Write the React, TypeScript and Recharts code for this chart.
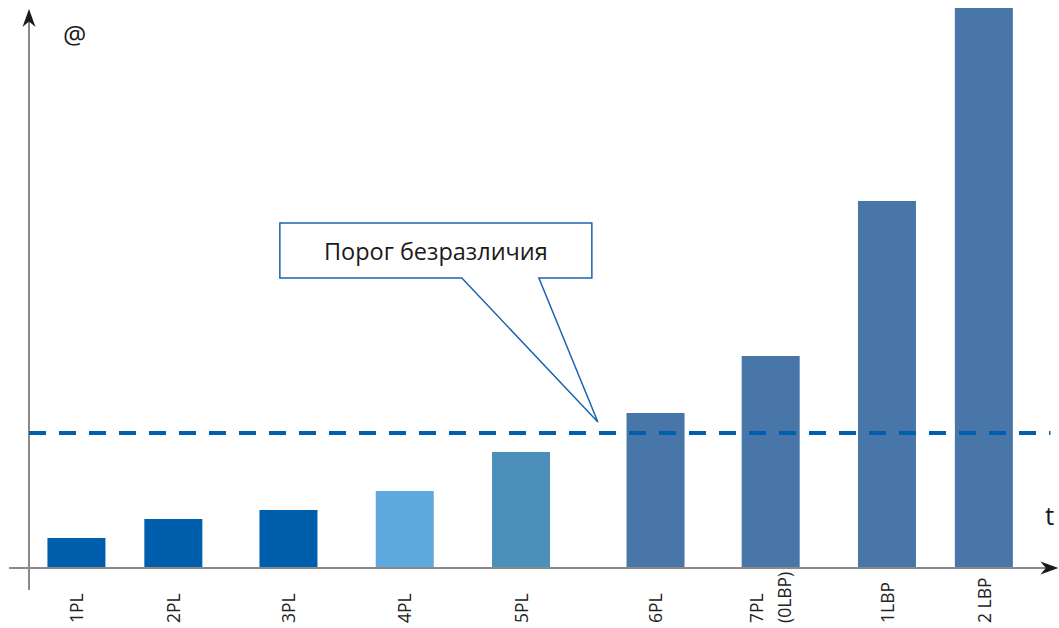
import React from 'react';
import { BarChart, Bar, XAxis, YAxis, Cell, ReferenceLine, ReferenceDot } from 'recharts';

const categories = ['1PL', '2PL', '3PL', '4PL', '5PL', '6PL', '7PL\n(0LBP)', '1LBP', '2 LBP'];
const timePoints = [0.42, 1.27, 2.28, 3.3, 4.32, 5.5, 6.51, 7.53, 8.38];
const values = [3.0, 4.9, 5.8, 7.7, 11.6, 15.5, 21.2, 36.7, 56.0];
const threshold = 13.5;
const thresholdLabel = 'Порог безразличия';

const barColors = ['#005fad', '#005fad', '#005fad', '#5ea9dd', '#4a90ba', '#4876a8', '#4876a8', '#4876a8', '#4876a8'];

const data = categories.map((name, i) => ({ name, pos: timePoints[i], value: values[i] }));

const FONT = '"Open Sans", "Noto Sans", sans-serif';
const AXIS_COLOR = '#8a8a8a';

const ArrowLine = (props: any) => {
  const { x1, y1, x2, y2 } = props;
  const dx = x2 - x1;
  const dy = y2 - y1;
  const len = Math.sqrt(dx * dx + dy * dy) || 1;
  const ux = dx / len;
  const uy = dy / len;
  const px = -uy;
  const py = ux;
  const L = 18;
  const W = 6.5;
  const bx = x2 - ux * L;
  const by = y2 - uy * L;
  const nx = x2 - ux * L * 0.7;
  const ny = y2 - uy * L * 0.7;
  const head = `M${x2},${y2} L${bx + px * W},${by + py * W} L${nx},${ny} L${bx - px * W},${by - py * W} Z`;
  return (
    <g>
      <line x1={x1} y1={y1} x2={nx} y2={ny} stroke={AXIS_COLOR} strokeWidth={2} />
      <path d={head} fill="#1a1a1a" />
    </g>
  );
};

const Callout = (props: any) => {
  const { cx, cy } = props;
  if (cx == null || cy == null) return null;
  const left = cx - 318;
  const right = cx - 6;
  const top = cy - 199;
  const bottom = cy - 144;
  const d = `M${left},${bottom} L${cx - 136},${bottom} L${cx},${cy} L${cx - 59},${bottom} L${right},${bottom} L${right},${top} L${left},${top} Z`;
  return (
    <g>
      <path d={d} fill="#ffffff" stroke="#1a64b0" strokeWidth={1.5} />
      <text
        x={(left + right) / 2}
        y={(top + bottom) / 2}
        textAnchor="middle"
        dominantBaseline="central"
        fontFamily={FONT}
        fontSize={23.5}
        fill="#1a1a1a"
      >
        {thresholdLabel}
      </text>
    </g>
  );
};

const RotatedTick = (props: any) => {
  const { x, payload } = props;
  const idx = timePoints.indexOf(payload.value);
  const label = idx >= 0 ? categories[idx] : '';
  const lines = label.split('\n');
  const baseY = 623;
  return (
    <g>
      {lines.map((line, i) => {
        const offset = (i - (lines.length - 1) / 2) * 28;
        const lx = x + offset;
        return (
          <text
            key={i}
            x={lx}
            y={baseY}
            transform={`rotate(-90, ${lx}, ${baseY})`}
            textAnchor="start"
            dy="0.36em"
            fontFamily={FONT}
            fontSize={17.5}
            fill="#222222"
          >
            {line}
          </text>
        );
      })}
    </g>
  );
};

export default function App() {
  return (
    <div style={{ position: 'absolute', left: 0, top: 0, width: 1059, height: 628, background: '#ffffff' }}>
      <BarChart
        width={1059}
        height={628}
        data={data}
        margin={{ top: 8, right: 4, left: 29, bottom: 0 }}
      >
        <XAxis
          dataKey="pos"
          type="number"
          domain={[0, 9]}
          ticks={timePoints}
          interval={0}
          tick={<RotatedTick />}
          tickLine={false}
          axisLine={false}
          height={60}
        />
        <YAxis hide domain={[0, 56]} />
        <Bar dataKey="value" barSize={58} isAnimationActive={false}>
          {data.map((d, i) => (
            <Cell key={d.name} fill={barColors[i]} />
          ))}
        </Bar>
        <ReferenceLine
          segment={[{ x: 0, y: -2.2 }, { x: 0, y: 55.9 }]}
          ifOverflow="visible"
          shape={<ArrowLine />}
        />
        <ReferenceLine
          segment={[{ x: -0.175, y: 0 }, { x: 9.03, y: 0 }]}
          ifOverflow="visible"
          shape={<ArrowLine />}
        />
        <ReferenceLine
          segment={[{ x: 0, y: threshold }, { x: 8.96, y: threshold }]}
          ifOverflow="visible"
          stroke="#0060ae"
          strokeWidth={4}
          strokeDasharray="17 13"
        />
        <ReferenceDot x={4.99} y={14.6} ifOverflow="visible" shape={<Callout />} />
      </BarChart>
      <div style={{ position: 'absolute', left: 63, top: 16, fontFamily: FONT, fontSize: 26, color: '#1a1a1a' }}>@</div>
      <div style={{ position: 'absolute', left: 1045, top: 497, fontFamily: FONT, fontSize: 26, color: '#1a1a1a' }}>t</div>
    </div>
  );
}
